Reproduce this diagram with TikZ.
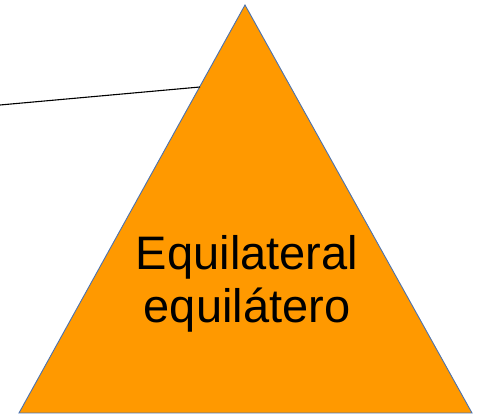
\documentclass[tikz,border=0pt]{standalone}
\usepackage{fontspec}
\setmainfont{Liberation Sans}
\definecolor{triorange}{HTML}{FF9900}
\definecolor{triedge}{HTML}{4A72B0}
\tikzset{
  tri/.style={fill=triorange, draw=triedge, line width=0.9pt, line join=miter},
  link/.style={draw=black, line width=1.1pt},
  lbl/.style={font=\fontsize{47}{53}\selectfont, align=center, inner sep=0pt}
}
\begin{document}
\begin{tikzpicture}[x=1pt,y=1pt]
\useasboundingbox (0,0) rectangle (484,417);
\coordinate (apex) at (245,412);
\coordinate (bl) at (19,4);
\coordinate (br) at (472,4);
\filldraw[tri] (apex) -- (br) -- (bl) -- cycle;
\coordinate (lstart) at (0,312);
\coordinate (lend) at (200,330);
\draw[link] (lstart) -- (lend);
\node[lbl] (label) at (247,133) {Equilateral\\equilátero};
\end{tikzpicture}
\end{document}
